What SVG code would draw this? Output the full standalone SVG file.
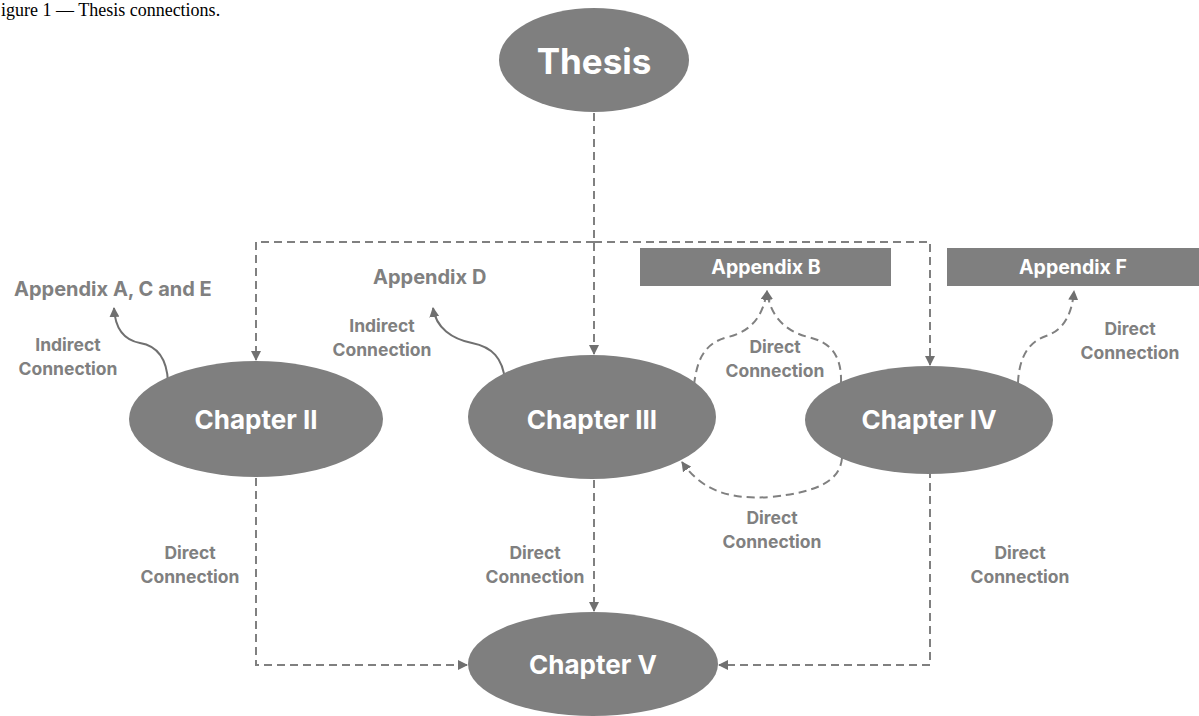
<svg xmlns="http://www.w3.org/2000/svg" width="1199" height="716" viewBox="0 0 1199 716">
<style>
.node{fill:#7f7f7f}
.nt{fill:#ffffff;font-family:Inter,"Liberation Sans",sans-serif;font-weight:700;text-anchor:middle}
.lbl{fill:#808080;font-family:Inter,"Liberation Sans",sans-serif;font-weight:700;font-size:17.5px;text-anchor:middle}
.app{fill:#808080;font-family:Inter,"Liberation Sans",sans-serif;font-weight:700;font-size:20px}
.dash{fill:none;stroke:#808080;stroke-width:2;stroke-dasharray:8 5;marker-end:url(#ah)}
.solid{fill:none;stroke:#707070;stroke-width:2;marker-end:url(#ah)}
.cap{font-family:"Liberation Serif",serif;font-size:18px;fill:#000}
</style>
<defs>
<marker id="ah" viewBox="0 0 10 10" refX="9" refY="5" markerWidth="10" markerHeight="10" markerUnits="userSpaceOnUse" orient="auto">
<path d="M0,0 L10,5 L0,10 z" fill="#707070"/>
</marker>
</defs>
<text class="cap" x="1" y="16">igure 1 — Thesis connections.</text>
<g id="connectors">
<path class="dash" d="M594,113 L594,354"/>
<path class="dash" d="M594,242 L256,242 L256,360"/>
<path class="dash" d="M594,242 L930,242 L930,365"/>
<path class="dash" d="M256,478 L256,665 L467,665"/>
<path class="dash" d="M594,480 L594,611"/>
<path class="dash" d="M930,470 L930,665 L719,665"/>
<path class="dash" d="M694,385 C697,360 704,343 728,337 C752,331 763,316 767,291"/>
<path class="dash" d="M841,383 C842,355 830,342 808,337 C785,331 770,316 767,291"/>
<path class="dash" d="M1018,383 C1019,358 1028,342 1046,336 C1064,330 1072,314 1074,291"/>
<path class="dash" d="M842,458 C840,480 820,492 770,497 C725,500 700,488 682,462"/>
<path class="solid" d="M168,382 C167,360 158,346 140,343 C124,340 115,328 114,308"/>
<path class="solid" d="M505,381 C503,358 492,347 472,343 C452,339 436,328 433,308"/>
</g>
<g id="thesis"><ellipse class="node" cx="594" cy="60" rx="95" ry="52"/><text class="nt" x="594" y="74" font-size="35">Thesis</text></g>
<g id="chapter2"><ellipse class="node" cx="256" cy="419" rx="127" ry="58"/><text class="nt" x="256" y="429" font-size="26">Chapter II</text></g>
<g id="chapter3"><ellipse class="node" cx="592" cy="417" rx="124" ry="62"/><text class="nt" x="592" y="429" font-size="26">Chapter III</text></g>
<g id="chapter4"><ellipse class="node" cx="929" cy="420" rx="124" ry="54"/><text class="nt" x="929" y="429" font-size="26">Chapter IV</text></g>
<g id="chapter5"><ellipse class="node" cx="593" cy="664" rx="125" ry="52"/><text class="nt" x="593" y="674" font-size="26">Chapter V</text></g>
<g id="appendixB"><rect class="node" x="640" y="248" width="251" height="38"/><text class="nt" x="766" y="274" font-size="19.5">Appendix B</text></g>
<g id="appendixF"><rect class="node" x="947" y="248" width="252" height="38"/><text class="nt" x="1073" y="274" font-size="19.5">Appendix F</text></g>
<g id="appendixACE"><text class="app" x="14" y="296">Appendix A, C and E</text></g>
<g id="appendixD"><text class="app" x="373" y="284">Appendix D</text></g>
<g id="labels">
<text class="lbl" x="68" y="351">Indirect</text><text class="lbl" x="68" y="375">Connection</text>
<text class="lbl" x="382" y="332">Indirect</text><text class="lbl" x="382" y="356">Connection</text>
<text class="lbl" x="775" y="353">Direct</text><text class="lbl" x="775" y="377">Connection</text>
<text class="lbl" x="1130" y="335">Direct</text><text class="lbl" x="1130" y="359">Connection</text>
<text class="lbl" x="772" y="524">Direct</text><text class="lbl" x="772" y="548">Connection</text>
<text class="lbl" x="190" y="559">Direct</text><text class="lbl" x="190" y="583">Connection</text>
<text class="lbl" x="535" y="559">Direct</text><text class="lbl" x="535" y="583">Connection</text>
<text class="lbl" x="1020" y="559">Direct</text><text class="lbl" x="1020" y="583">Connection</text>
</g>
</svg>
